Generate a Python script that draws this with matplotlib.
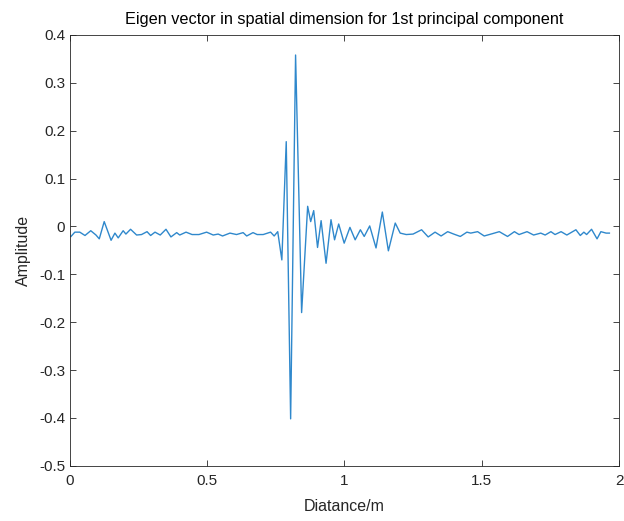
import numpy as np
import matplotlib.pyplot as plt
from matplotlib.ticker import FormatStrFormatter

# === DATA ===
distance = [
    0.004, 0.018, 0.036, 0.055, 0.076, 0.095, 0.107, 0.125, 0.150, 0.164,
    0.176, 0.194, 0.204, 0.221, 0.243, 0.261, 0.281, 0.294, 0.310, 0.329,
    0.350, 0.368, 0.389, 0.400, 0.423, 0.445, 0.470, 0.498, 0.522, 0.540,
    0.556, 0.583, 0.607, 0.631, 0.644, 0.667, 0.682, 0.704, 0.731, 0.744,
    0.757, 0.772, 0.788, 0.804, 0.822, 0.844, 0.866, 0.877, 0.888, 0.902,
    0.915, 0.933, 0.951, 0.964, 0.979, 0.999, 1.020, 1.039, 1.058, 1.072,
    1.092, 1.115, 1.138, 1.160, 1.185, 1.203, 1.225, 1.250, 1.281, 1.305,
    1.330, 1.352, 1.376, 1.398, 1.422, 1.446, 1.460, 1.485, 1.509, 1.540,
    1.564, 1.594, 1.619, 1.636, 1.665, 1.689, 1.715, 1.731, 1.752, 1.767,
    1.789, 1.810, 1.843, 1.859, 1.872, 1.882, 1.900, 1.920, 1.934, 1.953,
    1.965,
]
amplitude = [
    -0.021, -0.012, -0.012, -0.019, -0.009, -0.018, -0.026, 0.010, -0.029, -0.014,
    -0.024, -0.009, -0.016, -0.006, -0.018, -0.017, -0.011, -0.019, -0.012, -0.018,
    -0.006, -0.022, -0.013, -0.018, -0.012, -0.017, -0.017, -0.012, -0.018, -0.016,
    -0.020, -0.014, -0.017, -0.013, -0.020, -0.013, -0.017, -0.017, -0.012, -0.020,
    -0.011, -0.070, 0.177, -0.402, 0.358, -0.180, 0.042, 0.010, 0.033, -0.044,
    0.012, -0.077, 0.014, -0.028, 0.005, -0.035, -0.002, -0.028, -0.007, -0.021,
    0.001, -0.045, 0.030, -0.051, 0.007, -0.014, -0.017, -0.016, -0.007, -0.022,
    -0.012, -0.020, -0.011, -0.016, -0.021, -0.012, -0.014, -0.011, -0.020, -0.015,
    -0.011, -0.021, -0.011, -0.017, -0.011, -0.018, -0.014, -0.018, -0.011, -0.017,
    -0.011, -0.018, -0.007, -0.019, -0.012, -0.017, -0.006, -0.026, -0.011, -0.014,
    -0.014,
]
x_ticks = [0, 0.5, 1, 1.5, 2]
y_ticks = [-0.5, -0.4, -0.3, -0.2, -0.1, 0, 0.1, 0.2, 0.3, 0.4]

# === STYLE ===
plt.rcParams['font.family'] = ['Liberation Sans', 'DejaVu Sans']
plt.rcParams['axes.unicode_minus'] = False

fig = plt.figure(figsize=(6.24, 5.21), dpi=100)
ax = fig.add_axes([0.112, 0.106, 0.880, 0.827])

ax.plot(distance, amplitude, color='#2f88cc', lw=1.0,
        solid_joinstyle='round')

ax.set_xlim(0, 2)
ax.set_ylim(-0.5, 0.4)
ax.set_xticks(x_ticks)
ax.set_yticks(y_ticks)
ax.xaxis.set_major_formatter(FormatStrFormatter('%g'))
ax.yaxis.set_major_formatter(FormatStrFormatter('%g'))
ax.tick_params(direction='in', top=True, right=True, length=4, width=0.6,
               colors='#262626', labelsize=11, labelcolor='#262626')
ax.tick_params(axis='x', pad=6)
for sp in ax.spines.values():
    sp.set_color('#262626')
    sp.set_linewidth(0.6)

ax.set_title("Eigen vector in spatial dimension for 1st principal component",
             fontsize=11.7, pad=8)
ax.set_xlabel("Diatance/m", fontsize=11.5, color='#262626', labelpad=8)
ax.set_ylabel("Amplitude", fontsize=11.5, color='#262626', labelpad=6)

fig.savefig("out.png", dpi=100)
